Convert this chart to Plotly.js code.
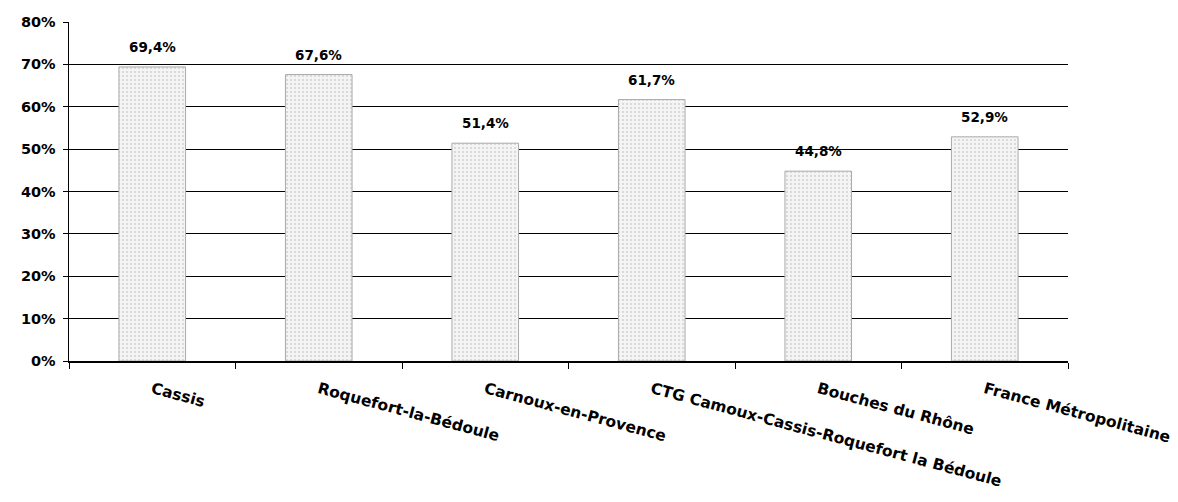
<!DOCTYPE html>
<html><head><meta charset="utf-8">
<script src="https://cdn.plot.ly/plotly-3.0.1.min.js"></script>
<style>html,body{margin:0;padding:0;background:#fff}#c{width:1178px;height:502px}</style>
</head><body><div id="c"></div>
<script>
const categories = ["Cassis","Roquefort-la-Bédoule","Carnoux-en-Provence","CTG Camoux-Cassis-Roquefort la Bédoule","Bouches du Rhône","France Métropolitaine"];
const values = [0.694, 0.676, 0.514, 0.617, 0.448, 0.529];
const yTicks = [0,0.1,0.2,0.3,0.4,0.5,0.6,0.7,0.8];

const FONT = 'DejaVu Sans, sans-serif';
const trace = {
  type: 'bar', x: categories, y: values, width: 0.4,
  marker: {color: '#f3f3f3', line: {color: '#aaaaaa', width: 1},
    pattern: {shape: '.', fgcolor: '#b0b0b0', bgcolor: '#f4f4f4', size: 4, solidity: 0.1}},
  hoverinfo: 'skip'
};
const annotations = categories.map((c,i)=>({
  x: c, y: values[i], xref:'x', yref:'y', yanchor:'bottom', yshift: 10, showarrow:false,
  text: (values[i]*100).toFixed(1).replace('.',',')+'%',
  font:{family:FONT, size:13.5, color:'#000', weight:700}
}));
const layout = {
  width:1178, height:502, margin:{l:69,r:110,t:22,b:141},
  paper_bgcolor:'#fff', plot_bgcolor:'#fff', showlegend:false, separators:', ',
  xaxis:{type:'category', tickson:'boundaries', ticks:'outside', ticklen:6, tickcolor:'#000',
    showline:true, linecolor:'#000', linewidth:1.5, showgrid:false, tickangle:15, ticklabelstandoff:12,
    tickfont:{family:FONT, size:15.5, color:'#000', weight:700}},
  yaxis:{range:[0,0.8], tickvals:yTicks, tickformat:'.0%', ticks:'outside', ticklen:5, tickcolor:'#000',
    showline:true, linecolor:'#000', linewidth:1.5, showgrid:true, gridcolor:'#000', gridwidth:1,
    zeroline:false, ticklabelstandoff:4, tickfont:{family:FONT, size:14.5, color:'#000', weight:700}},
  annotations: annotations
};
Plotly.newPlot('c',[trace],layout,{displayModeBar:false, staticPlot:true});
</script></body></html>
